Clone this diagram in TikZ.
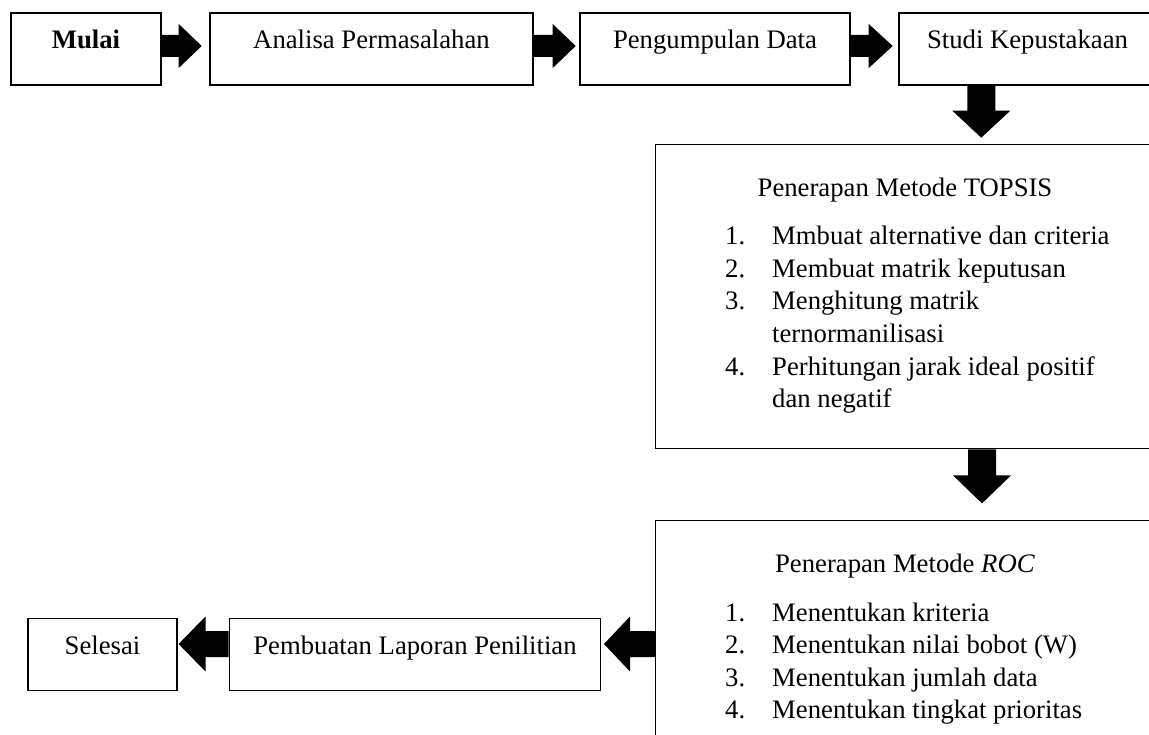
\documentclass[tikz,border=0pt]{standalone}
\usepackage{fontspec}
\setmainfont{Liberation Serif}
\usetikzlibrary{calc}
\newcommand{\blkright}[5]{\fill (#1) -- ++(0,-#4) -- ++(#2,0) -- ++(0,#4-#5) -- ++(#3,#5) -- ++(-#3,#5) -- ++(0,#4-#5) -- ++(-#2,0) -- cycle;}
\newcommand{\blkleft}[5]{\fill (#1) -- ++(0,-#4) -- ++(-#2,0) -- ++(0,#4-#5) -- ++(-#3,#5) -- ++(#3,#5) -- ++(0,#4-#5) -- ++(#2,0) -- cycle;}
\newcommand{\blkdown}[5]{\fill (#1) -- ++(#4,0) -- ++(0,#2) -- ++(#5-#4,0) -- ++(-#5,#3) -- ++(-#5,-#3) -- ++(#5-#4,0) -- ++(0,-#2) -- cycle;}
\begin{document}
\begin{tikzpicture}[x=1pt,y=-1pt,
  font=\fontsize{26.7}{32.5}\selectfont,
  stepbox/.style={draw, line width=1.4pt, inner sep=0pt, minimum height=72pt, text height=18pt, text depth=18pt},
  bigbox/.style={draw, line width=1.4pt, inner sep=0pt, anchor=north west},
  listtxt/.style={anchor=base west, inner sep=0pt},
  titletxt/.style={anchor=base, inner sep=0pt}]
\useasboundingbox (0,0) rectangle (1149,735);
\clip (0,0) rectangle (1149,735);
\fill[white] (0,0) rectangle (1149,735);
% top row
\node[stepbox, minimum width=150pt] (mulai) at (86,49) {\textbf{Mulai}};
\node[stepbox, minimum width=323pt] (analisa) at (371.5,49) {Analisa Permasalahan};
\node[stepbox, minimum width=270pt] (kumpul) at (715,49) {Pengumpulan Data};
\node[stepbox, minimum width=257pt] (studi) at (1027.5,49) {Studi Kepustakaan};
% TOPSIS box
\node[bigbox, minimum width=501pt, minimum height=304pt] (topsis) at (655,144) {};
\node[titletxt] (t0) at (905,197) {Penerapan Metode TOPSIS};
\node[listtxt] (n1) at (725,245) {1.};
\node[listtxt] (t1) at (772,245) {Mmbuat alternative dan criteria};
\node[listtxt] (n2) at (725,277.5) {2.};
\node[listtxt] (t2) at (772,277.5) {Membuat matrik keputusan};
\node[listtxt] (n3) at (725,310) {3.};
\node[listtxt] (t3) at (772,310) {Menghitung matrik};
\node[listtxt] (t3b) at (772,342.5) {ternormanilisasi};
\node[listtxt] (n4) at (725,375) {4.};
\node[listtxt] (t4) at (772,375) {Perhitungan jarak ideal positif};
\node[listtxt] (t4b) at (772,407.5) {dan negatif};
% ROC box
\node[bigbox, minimum width=501pt, minimum height=260pt] (roc) at (655,520) {};
\node[titletxt] (r0) at (905,572) {Penerapan Metode \textit{ROC}};
\node[listtxt] (m1) at (725,621) {1.};
\node[listtxt] (r1) at (772,621) {Menentukan kriteria};
\node[listtxt] (m2) at (725,653.5) {2.};
\node[listtxt] (r2) at (772,653.5) {Menentukan nilai bobot (W)};
\node[listtxt] (m3) at (725,686) {3.};
\node[listtxt] (r3) at (772,686) {Menentukan jumlah data};
\node[listtxt] (m4) at (725,718.5) {4.};
\node[listtxt] (r4) at (772,718.5) {Menentukan tingkat prioritas};
% bottom row
\node[stepbox, minimum width=371.5pt] (laporan) at (415,654.5) {Pembuatan Laporan Penilitian};
\node[stepbox, minimum width=149pt] (selesai) at (102.5,654.5) {Selesai};
% block arrows
\blkright{$(mulai.east)+(0,-3)$}{17}{23}{11}{22}
\blkright{$(analisa.east)+(0,-3)$}{19}{23}{11}{22}
\blkright{$(kumpul.east)+(0,-3)$}{18}{24}{11}{22}
\blkdown{$(studi.south west)+(83,0)$}{25}{27}{14}{29}
\blkdown{$(topsis.south west)+(327,0)$}{26}{28}{14}{29}
\blkleft{$(roc.north west)+(0,124)$}{25}{26}{13}{27.5}
\blkleft{$(laporan.west)+(0,-10.5)$}{23}{27}{13}{27.5}
\end{tikzpicture}
\end{document}
